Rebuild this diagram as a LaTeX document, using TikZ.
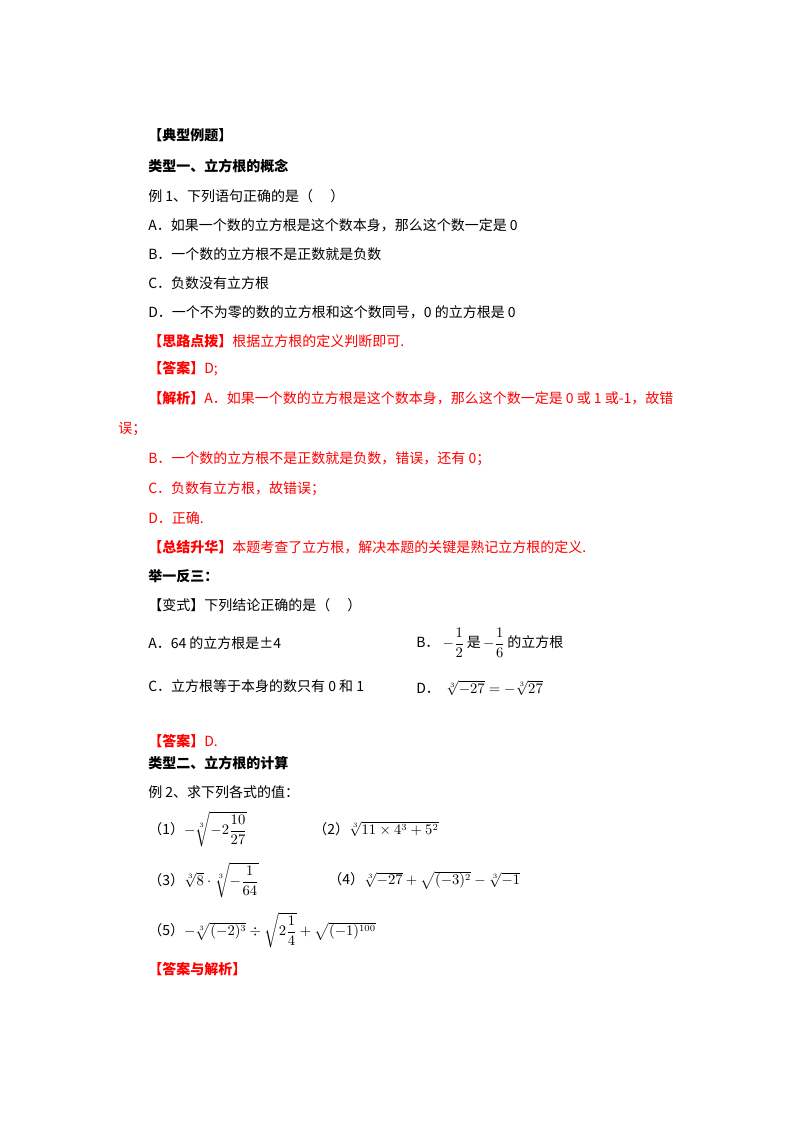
\documentclass[tikz,border=0pt]{standalone}
\usepackage{fontspec}
\setmainfont{Liberation Serif}
\newfontfamily\cjk{Noto Sans CJK SC}
\usepackage{amsmath}
\begin{document}
\begin{tikzpicture}[x=0.75pt,y=-0.75pt,
  t/.style={anchor=west,inner sep=0pt,font=\cjk\fontsize{10.5}{12}\selectfont},
  b/.style={t,font=\cjk\bfseries\fontsize{10.5}{12}\selectfont},
  r/.style={t,text=red},
  rb/.style={b,text=red}]
\useasboundingbox (0,0) rectangle (800,1132);
\node[b] (h0) at (148,135) {【典型例题】};
\node[b] (h1) at (148,166) {类型一、立方根的概念};
\node[t] (l1) at (148,196) {例 1、下列语句正确的是（\quad\ ）};
\node[t] (l2) at (148,225) {A．如果一个数的立方根是这个数本身，那么这个数一定是 0};
\node[t] (l3) at (148,254) {B．一个数的立方根不是正数就是负数};
\node[t] (l4) at (148,283) {C．负数没有立方根};
\node[t] (l5) at (148,312) {D．一个不为零的数的立方根和这个数同号，0 的立方根是 0};
\node[t] (l6) at (148,341) {\textcolor{red}{\bfseries【思路点拨】}\textcolor{red}{根据立方根的定义判断即可.}};
\node[t] (l7) at (148,369) {\textcolor{red}{\bfseries【答案】}\textcolor{red}{D;}};
\node[t] (l8) at (148,398) {\textcolor{red}{\bfseries【解析】}\textcolor{red}{A．如果一个数的立方根是这个数本身，那么这个数一定是 0 或 1 或-1，故错}};
\node[r] (l9) at (118,429) {误；};
\node[r] (l10) at (148,459) {B．一个数的立方根不是正数就是负数，错误，还有 0；};
\node[r] (l11) at (148,489) {C．负数有立方根，故错误；};
\node[r] (l12) at (148,518) {D．正确.};
\node[t] (l13) at (148,547) {\textcolor{red}{\bfseries【总结升华】}\textcolor{red}{本题考查了立方根，解决本题的关键是熟记立方根的定义.}};
\node[b] (l14) at (148,576) {举一反三：};
\node[t] (l15) at (148,605) {【变式】下列结论正确的是（\quad\ ）};
\node[t] (a) at (148,643) {A．64 的立方根是±4};
\node[t] (bb) at (416,643) {B．\ $-\dfrac{1}{2}$\,是\,$-\dfrac{1}{6}$\,的立方根};
\node[t] (c) at (148,686) {C．立方根等于本身的数只有 0 和 1};
\node[t] (d) at (416,688) {D．\ \ $\sqrt[3]{-27}=-\sqrt[3]{27}$};
\node[rb] (l16) at (148,741) {【答案】\mdseries D.};
\node[b] (h2) at (148,763) {类型二、立方根的计算};
\node[t] (l17) at (148,792) {例 2、求下列各式的值：};
\node[t] (e1) at (148,829) {（1）$-\sqrt[3]{-2\dfrac{10}{27}}$};
\node[t] (e2) at (313,829) {（2）$\sqrt[3]{11\times4^3+5^2}$};
\node[t] (e3) at (148,880) {（3）$\sqrt[3]{8}\cdot\sqrt[3]{-\dfrac{1}{64}}$};
\node[t] (e4) at (328,880) {（4）$\sqrt[3]{-27}+\sqrt{(-3)^2}-\sqrt[3]{-1}$};
\node[t] (e5) at (148,930) {（5）$-\sqrt[3]{(-2)^3}\div\sqrt{2\dfrac{1}{4}}+\sqrt{(-1)^{100}}$};
\node[rb] (l18) at (148,969) {【答案与解析】};
\end{tikzpicture}
\end{document}
